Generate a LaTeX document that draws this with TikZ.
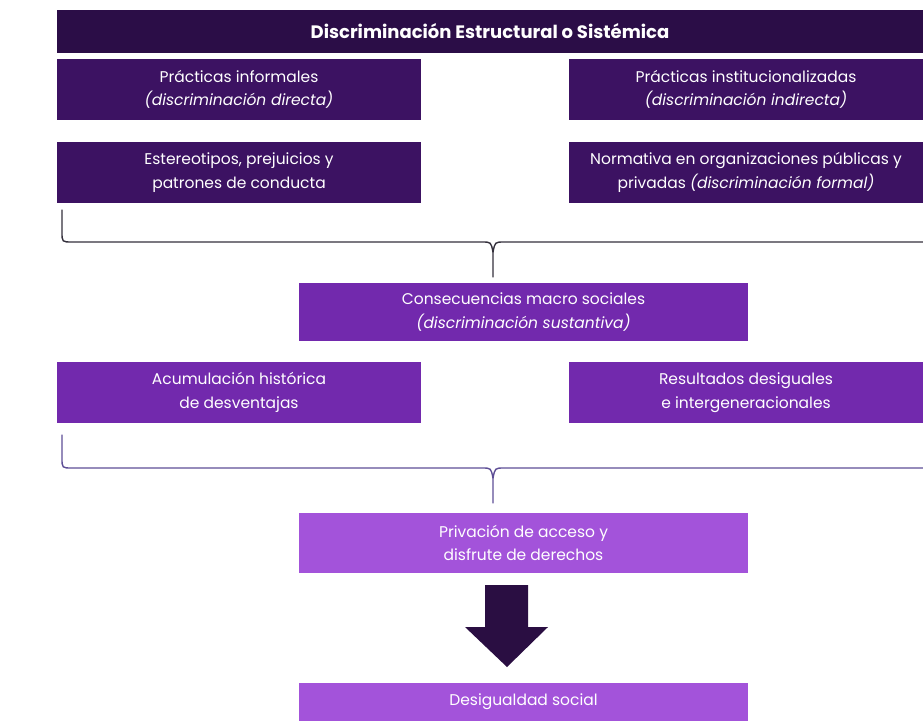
\documentclass[tikz,border=0pt]{standalone}
\usepackage{fontspec}
\setmainfont{Poppins}
\definecolor{titlepurple}{HTML}{2B0D47}
\definecolor{darkpurple}{HTML}{3C1262}
\definecolor{midpurple}{HTML}{7229AD}
\definecolor{lightpurple}{HTML}{A353DA}
\definecolor{arrowpurple}{HTML}{2A0E42}
\definecolor{braceone}{HTML}{34303C}
\definecolor{bracetwo}{HTML}{5E4E96}
\tikzset{
  box/.style={rectangle, text=white, align=center, inner sep=0pt,
    font=\fontsize{15.5}{23.5}\selectfont},
  halfbox/.style={box, minimum height=61pt},
  widebox/.style={box, minimum width=449pt, minimum height=58pt},
  bracepath/.style={line width=1.4pt, line cap=round},
}
\begin{document}
\begin{tikzpicture}[x=1pt,y=-1pt]
\useasboundingbox (0,0) rectangle (923,721);
\clip (0,0) rectangle (923,721);
% title bar
\node[box, fill=titlepurple, minimum width=866pt, minimum height=43pt,
  font=\bfseries\fontsize{18}{20}\selectfont] (title) at (490,31)
  {Discriminación Estructural o Sistémica};
% first level
\node[halfbox, fill=darkpurple, minimum width=364pt] (informal) at (239,89.5)
  {Prácticas informales\\\textit{(discriminación directa)}};
\node[halfbox, fill=darkpurple, minimum width=354pt] (instit) at (746,89.5)
  {Prácticas institucionalizadas\\\textit{(discriminación indirecta)}};
\node[halfbox, fill=darkpurple, minimum width=364pt] (estereo) at (239,172.5)
  {Estereotipos, prejuicios y\\patrones de conducta};
\node[halfbox, fill=darkpurple, minimum width=354pt] (normativa) at (746,172.5)
  {Normativa en organizaciones públicas y\\privadas \textit{(discriminación formal)}};
% brace 1
\coordinate (bOneL) at (62,210);
\coordinate (bOneR) at (930,242);
\coordinate (bOneTip) at (493,277);
\draw[bracepath, braceone] (bOneL) -- (62,232) .. controls (62,242) .. (72,242)
  -- (482,242) .. controls (491,242) .. (493,252) -- (bOneTip);
\draw[bracepath, braceone] (493,252) .. controls (495,242) .. (504,242) -- (bOneR);
% second level
\node[widebox, fill=midpurple] (conse) at (523.5,312)
  {Consecuencias macro sociales\\\textit{(discriminación sustantiva)}};
\node[halfbox, fill=midpurple, minimum width=364pt] (acumul) at (239,392.5)
  {Acumulación histórica\\de desventajas};
\node[halfbox, fill=midpurple, minimum width=354pt] (result) at (746,392.5)
  {Resultados desiguales\\e intergeneracionales};
% brace 2
\coordinate (bTwoL) at (62,435);
\coordinate (bTwoR) at (930,468);
\coordinate (bTwoTip) at (493,503);
\draw[bracepath, bracetwo] (bTwoL) -- (62,458) .. controls (62,468) .. (72,468)
  -- (482,468) .. controls (491,468) .. (493,478) -- (bTwoTip);
\draw[bracepath, bracetwo] (493,478) .. controls (495,468) .. (504,468) -- (bTwoR);
% third level
\node[widebox, fill=lightpurple, minimum height=60pt] (privac) at (523.5,543)
  {Privación de acceso y\\disfrute de derechos};
\node[widebox, fill=lightpurple, minimum height=38pt] (desig) at (523.5,701.5)
  {Desigualdad social};
% big arrow
\coordinate (arrTop) at (507,585);
\fill[arrowpurple] (arrTop) ++(-22,0) -- ++(43,0) -- ++(0,42) -- ++(20,0)
  -- (507,667) -- (465,627) -- (485,627) -- cycle;
\end{tikzpicture}
\end{document}
